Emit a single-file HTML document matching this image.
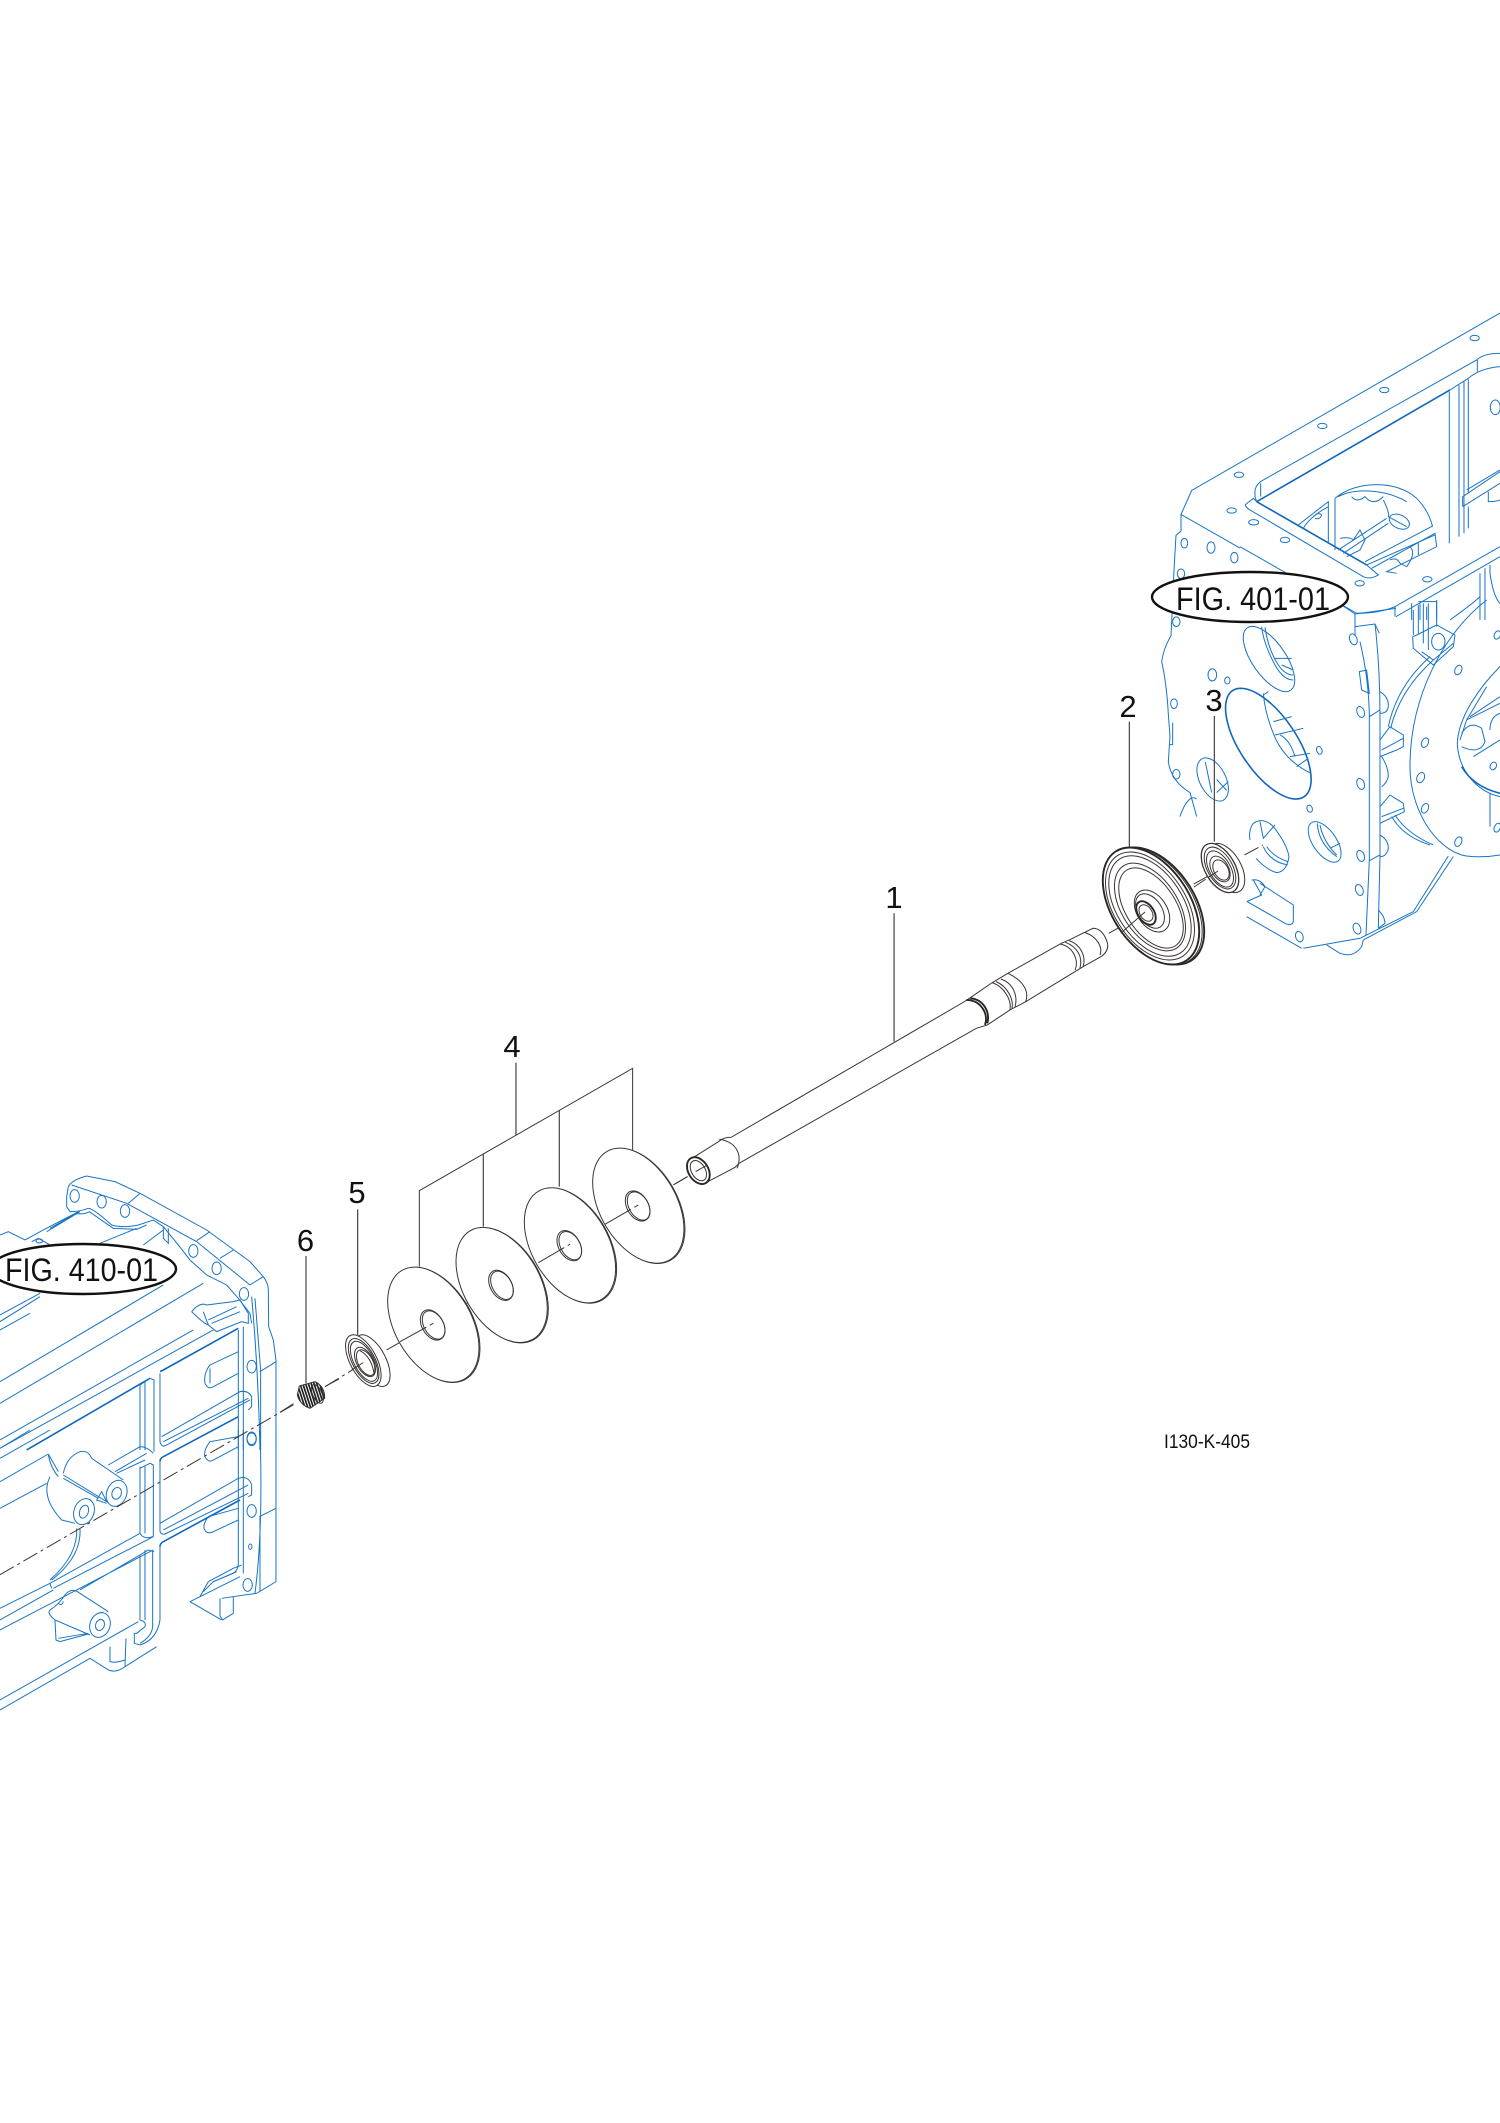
<!DOCTYPE html>
<html><head><meta charset="utf-8"><style>
html,body{margin:0;padding:0;background:#fff}
svg{display:block}
.b *{fill:none;stroke:#1874c6;stroke-width:1;vector-effect:non-scaling-stroke}
.b .t{stroke-width:1.6;stroke:#0f66bd}
.k *{fill:none;stroke:#3a3533;stroke-width:1;vector-effect:non-scaling-stroke}
.k .w{fill:#fff}
.k .t{stroke-width:1.9;stroke:#2a2624}
.k .l{stroke:#444;stroke-width:1.2}
.k .d{stroke-dasharray:16 4 3 4}
text{font-family:"Liberation Sans",sans-serif;fill:#111}
</style></head><body>
<svg width="1500" height="2123" viewBox="0 0 1500 2123" xmlns="http://www.w3.org/2000/svg">
<defs><pattern id="h" width="8" height="8" patternUnits="userSpaceOnUse" patternTransform="rotate(-18)"><rect width="8" height="8" fill="#fff"/><rect width="5" height="8" fill="#1c1c1c"/></pattern></defs>
<rect width="1500" height="2123" fill="#fff"/>

<!-- right housing: left part -->
<g class="b" transform="translate(1100,300) scale(.3333,.4359)">
<path d="M1200 30L275 437L243 492L420 569"/>
<ellipse cx="417" cy="401" rx="14" ry="6"/><ellipse cx="395" cy="483" rx="14" ry="6"/>
<path d="M243 492V530L228 540L222 620L215 740L213 770Q190 800 185 830Q200 880 205 950L210 1000L205 1060Q215 1105 270 1130L290 1185"/>
<path d="M240 1185C255 1150 275 1135 290 1145M218 970V1020H208"/>
<ellipse cx="253" cy="558" rx="10" ry="11"/><ellipse cx="333" cy="568" rx="12" ry="13"/><ellipse cx="403" cy="591" rx="11" ry="12"/><ellipse cx="243" cy="628" rx="11" ry="11"/><ellipse cx="229" cy="738" rx="11" ry="11"/><ellipse cx="222" cy="926" rx="10" ry="11"/><ellipse cx="382" cy="873" rx="8" ry="8"/><ellipse cx="337" cy="860" rx="13" ry="14"/><ellipse cx="229" cy="1088" rx="11" ry="11"/>
<ellipse cx="338" cy="1100" rx="58" ry="36" transform="rotate(48 338 1100)"/>
<path d="M316 1060L335 1130M350 1100L380 1125M350 1130L385 1105"/>
</g>

<!-- right housing: top -->
<g class="b" transform="translate(1240,320) scale(.3333)">
<path d="M45 510Q50 490 70 480L710 120Q730 100 780 100M45 510V530L50 545M62 490V530"/>
<path class="t" d="M50 545L630 210"/>
<path d="M630 210L685 175Q720 145 780 140M15 555L40 535L50 545M15 555Q20 565 30 570L370 770Q390 780 415 765L380 735"/>
<path class="t" d="M50 545L380 735"/>
<path d="M380 735L585 645"/>
<path d="M628 215V670M657 195V650M672 185V640M685 178V520M685 560V625M712 120V155"/>
<path d="M0 680L350 880Q420 880 465 860L780 680M465 860V890M468 890L780 710"/>
<path d="M175 615L265 545V670M190 625Q210 590 265 560M285 535V690"/>
<path d="M285 535C350 480 470 480 530 535C555 560 570 590 578 620M295 530C340 505 430 505 500 545"/>
<path d="M335 530Q350 550 375 530Q400 560 430 530M430 540Q450 580 445 590L500 620"/>
<ellipse cx="478" cy="605" rx="32" ry="20" transform="rotate(25 478 605)"/>
<path d="M295 690L440 595M310 700L445 610M300 655Q330 650 340 660L360 630L375 660L360 690L320 710M375 725L578 618M395 745L585 640L590 680L440 755L470 760M450 720Q470 710 480 730L500 740Q530 700 510 680M535 670V705M220 590Q235 575 245 585Q240 600 225 595"/>
<path d="M668 530L780 455M668 560L780 490M668 530V560M680 510L780 450M745 515V545Q770 545 780 540"/>
<ellipse cx="766" cy="262" rx="15" ry="22"/>
<path d="M720 760V900M735 745V900M750 735V760Q760 830 780 850M720 830Q700 850 630 900"/>
<path d="M515 850V900M535 845Q560 845 590 845V900M540 850V900M560 860V900"/>
<ellipse cx="704" cy="54" rx="14" ry="8"/><ellipse cx="433" cy="210" rx="14" ry="8"/><ellipse cx="247" cy="318" rx="14" ry="8"/><ellipse cx="41" cy="607" rx="15" ry="8"/><ellipse cx="135" cy="660" rx="14" ry="8"/><ellipse cx="359" cy="790" rx="14" ry="8"/><ellipse cx="562" cy="778" rx="14" ry="8"/>
</g>

<!-- right housing: lower -->
<g class="b" transform="translate(1240,600) scale(.3333)">
<ellipse cx="87" cy="177" rx="114" ry="50" transform="rotate(55 87 177)"/>
<path d="M65 80Q70 130 105 195Q130 240 160 240M75 82Q85 150 115 195Q135 225 160 225M105 175L155 175M125 195L160 210"/>
<ellipse class="t" cx="85" cy="431" rx="192" ry="85" transform="rotate(56 85 431)"/>
<path d="M70 280Q75 340 100 400Q130 480 213 520M100 365L155 350M105 405L190 385M150 470L210 460M170 500L205 475M70 285L85 275M120 405Q150 420 165 470"/>
<ellipse cx="238" cy="451" rx="8" ry="12" transform="rotate(-20 238 451)"/><ellipse cx="209" cy="626" rx="8" ry="11" transform="rotate(-20 209 626)"/>
<ellipse cx="254" cy="726" rx="70" ry="35" transform="rotate(55 254 726)"/>
<path d="M232 670Q235 730 290 770M240 675Q250 725 290 765M270 745L300 730"/>
<path d="M30 720Q25 690 40 670Q70 650 100 680Q140 730 147 770Q140 815 110 818Q80 810 48 775M60 665L70 715L105 675M70 740Q90 785 143 795M80 740Q100 770 143 785"/>
<ellipse cx="340" cy="118" rx="11" ry="17" transform="rotate(-20 340 118)"/><ellipse cx="362" cy="336" rx="11" ry="17" transform="rotate(-20 362 336)"/><ellipse cx="362" cy="552" rx="11" ry="17" transform="rotate(-20 362 552)"/><ellipse cx="362" cy="768" rx="11" ry="17" transform="rotate(-20 362 768)"/><ellipse cx="358" cy="870" rx="11" ry="17" transform="rotate(-20 358 870)"/><ellipse cx="351" cy="986" rx="11" ry="17" transform="rotate(-20 351 986)"/><ellipse cx="178" cy="1010" rx="11" ry="16" transform="rotate(-20 178 1010)"/>
<path d="M305 15L345 42M345 42L468 25M345 42V108M345 80L405 72L418 100"/>
<path d="M360 125Q385 230 388 340V780L378 1005M405 72Q420 200 420 350V770L415 985M388 350L420 330M388 782L420 765M358 215L380 210L388 280L365 270Z"/>
<path d="M420 275Q445 290 445 315Q445 340 420 340M425 470Q445 500 445 530Q440 550 425 560M420 705Q445 720 445 745Q440 770 420 770M415 930Q435 950 435 970L415 985"/>
<path d="M420 420L450 380L490 405V440L470 450L420 470M425 450L490 415M420 620L450 585L490 610L493 635L420 670M425 650L490 625"/>
<path d="M445 380Q470 260 570 170M452 385Q480 270 580 180M455 650Q490 710 570 735M465 645Q500 700 580 735"/>
<path d="M520 30V105M535 15V100M550 10V130M565 10V150M590 0V80M518 110L530 105L590 75L645 105L640 140L580 195L520 145ZM545 155L580 180L640 130"/>
<ellipse cx="595" cy="125" rx="20" ry="25"/>
<path d="M740 0C610 100 510 290 510 500C510 640 600 770 700 770Q740 772 780 765"/>
<path d="M780 200C720 260 655 350 652 430C655 510 710 575 780 590"/>
<path class="t" d="M665 500Q700 560 780 580"/>
<path d="M660 420L680 360L780 310M665 400Q690 360 725 385L735 425Q720 465 665 440M700 470L780 420M690 350L780 290M680 360L740 260M780 340Q750 350 750 390M750 580V680"/>
<g><ellipse cx="555" cy="428" rx="10" ry="15" transform="rotate(25 555 428)"/><ellipse cx="542" cy="533" rx="11" ry="16" transform="rotate(25 542 533)"/><ellipse cx="555" cy="625" rx="10" ry="15" transform="rotate(25 555 625)"/><ellipse cx="655" cy="725" rx="10" ry="15" transform="rotate(25 655 725)"/><ellipse cx="655" cy="210" rx="10" ry="15" transform="rotate(25 655 210)"/><ellipse cx="772" cy="105" rx="9" ry="13" transform="rotate(25 772 105)"/><ellipse cx="760" cy="498" rx="9" ry="12" transform="rotate(25 760 498)"/><ellipse cx="772" cy="683" rx="9" ry="14" transform="rotate(25 772 683)"/></g>
<path d="M640 770L530 935L370 1020L365 1040Q340 1075 300 1060L260 1035M625 768L520 935L360 1015L190 1045M20 950L185 1045"/>
<path d="M20 905L65 885L40 840M60 850L160 915V965Q155 980 135 970L22 905M35 840Q60 835 75 860L60 885"/>
</g>

<!-- left housing top -->
<g class="b" transform="translate(0,1170) scale(.3333)">
<path d="M205 50Q215 30 260 18L345 35L420 70L620 180L750 275L790 320Q805 340 805 360L806 470L820 510L828 570V840"/>
<path d="M205 50L200 80V110L210 125Q240 125 265 115Q280 115 335 165Q370 175 415 165Q430 160 460 150L490 170L535 225L570 270L620 315L680 345L715 385L750 430L755 460"/>
<path d="M225 130Q250 135 268 125L340 175L410 178L440 165M215 45L380 100L590 215L750 345M385 100L420 70M590 212L630 185M660 265L700 240M750 345L790 320"/>
<path d="M755 380Q775 600 780 840M765 385L782 600V840M780 605L828 575"/>
<path d="M490 170V205L505 220V175"/>
<ellipse cx="224" cy="78" rx="14" ry="19"/><ellipse cx="305" cy="95" rx="14" ry="19"/><ellipse cx="375" cy="123" rx="14" ry="19"/><ellipse cx="580" cy="243" rx="14" ry="19"/><ellipse cx="650" cy="295" rx="14" ry="19"/><ellipse cx="732" cy="372" rx="14" ry="19"/><ellipse cx="755" cy="590" rx="14" ry="19"/><ellipse cx="755" cy="808" rx="14" ry="19"/>
<path d="M0 195L25 185L75 210L130 180L235 125M140 185L240 125M150 175L220 135M95 215L115 205L150 225M300 220L410 175M430 225L490 180"/>
<ellipse cx="118" cy="213" rx="10" ry="6"/>
<path d="M0 435L120 370M0 455L120 380M0 480L90 430M0 635L490 345M0 700L610 340M0 810L580 480M0 835L640 480"/>
<path class="t" d="M80 840L450 625M480 605L490 600L715 475"/>
<path d="M575 425Q600 395 620 405L700 395L720 390L745 430V460L725 455L650 485L625 465Q610 460 575 425M610 425L625 465M625 450L710 410M635 460L720 425"/>
<path d="M480 610V815Q485 835 500 825L750 690M490 815L745 685M715 545L630 585Q610 610 615 640Q625 660 640 650L715 610M630 595V640M485 800L720 665Q745 660 755 680V710L745 720"/>
<path d="M420 640V840M435 635V840M450 625L462 630V840M420 645L450 625M715 480V840M730 470V840"/>
</g>

<!-- left housing bottom -->
<g class="b" transform="translate(0,1430) scale(.3333)">
<path d="M0 55L90 0M0 85L150 0M0 155L145 72M0 235L140 160M145 72L175 125M145 72Q150 110 175 140M150 140Q120 200 185 270L225 280"/>
<path d="M190 130Q200 80 240 65Q265 60 275 85L370 150M190 135L320 215L305 185L290 210L320 220M190 145L295 205"/>
<path d="M325 105L420 50Q440 50 460 70M345 125L440 70M350 130L435 90"/>
<path d="M420 0V50M435 0V50M462 0V65M420 110V310Q430 330 460 320V105L450 100L420 115M435 110V310"/>
<path class="t" d="M480 95Q480 85 490 80L715 -40M480 350Q480 340 490 335L720 210"/>
<path d="M480 95V300Q480 315 495 312L745 190M480 280L715 145Q745 135 755 165V195L745 200M490 300L745 165M480 350V570"/>
<path d="M715 20L630 35Q610 60 615 80Q625 100 640 90L715 50M715 235L625 260Q610 280 612 295Q620 315 640 305L715 270"/>
<path d="M715 0V400Q715 420 700 430L640 455M730 0V430M765 490Q790 300 780 0M778 260L828 235M780 260V485M828 0V455L770 490L665 505"/>
<ellipse cx="755" cy="25" rx="14" ry="19"/><ellipse cx="755" cy="243" rx="14" ry="19"/><ellipse cx="751" cy="350" rx="5" ry="8"/><ellipse cx="743" cy="465" rx="14" ry="19"/>
<path d="M570 515L720 440M600 500L625 455L700 415L725 405M610 485L640 455L710 425M570 515L665 570M660 505V558L668 570L700 550V500"/>
<path d="M420 375V570Q440 575 435 590L410 610H403V640L420 645Q470 630 480 570M435 360V570M458 365V590Q455 620 420 640M445 360L462 365M420 375L445 360"/>
<path d="M150 460L420 310M160 475L460 320M0 535L150 460M0 600L460 360M0 570L160 480M240 480L420 375M150 460L155 475"/>
<path d="M150 540Q175 525 195 495Q215 470 240 490L325 545M150 540Q140 550 165 570L270 615M165 570L168 630L180 635L265 612M175 520Q185 530 190 515M175 625L265 610"/>
<path d="M0 810L415 575M0 840L270 685L325 720Q350 730 375 710L470 650M330 650V695Q345 700 375 690M378 625L375 710"/>
<path d="M240 295Q245 380 155 450M230 295Q235 375 150 450"/>
<ellipse cx="252" cy="245" rx="30" ry="40" transform="rotate(20 252 245)"/><ellipse cx="252" cy="245" rx="13" ry="20" transform="rotate(20 252 245)"/>
<ellipse cx="350" cy="190" rx="30" ry="40" transform="rotate(20 350 190)"/><ellipse cx="350" cy="190" rx="14" ry="18" transform="rotate(20 350 190)"/>
<ellipse cx="300" cy="585" rx="30" ry="38" transform="rotate(20 300 585)"/><ellipse cx="300" cy="585" rx="13" ry="17" transform="rotate(20 300 585)"/>
</g>

<!-- label ellipses -->
<ellipse cx="1250" cy="597" rx="98" ry="25" fill="#fff" stroke="#111" stroke-width="2.4"/>
<ellipse cx="83" cy="1269" rx="93" ry="25" fill="#fff" stroke="#111" stroke-width="2.4"/>
<text x="1176" y="610" font-size="32" textLength="154" lengthAdjust="spacingAndGlyphs">FIG. 401-01</text>
<text x="5" y="1281" font-size="32" textLength="153" lengthAdjust="spacingAndGlyphs">FIG. 410-01</text>

<!-- axis through left housing -->
<g class="k" transform="translate(0,1160) scale(.3333,.3654)">
<path class="d" d="M0 1135L880 670M975 620L1020 598"/>
</g>

<!-- washers and small parts -->
<g class="k" transform="translate(280,1040) scale(.3333)">
<path d="M418 680V452L1058 85V330"/>
<path class="l" d="M708 68V285M610 342V560M838 212V440M233 508V885M78 648V1030"/>
<path class="d" d="M0 1117L50 1085M135 1040L225 985M320 930L460 850M560 790L655 737M775 668L870 613M975 553L1075 495M1180 435L1230 405"/>
<ellipse cx="463" cy="855" rx="188" ry="115" transform="rotate(60 463 855)"/><ellipse class="w" cx="460" cy="854" rx="188" ry="115" transform="rotate(60 460 854)"/><ellipse cx="458" cy="855" rx="49" ry="32" transform="rotate(60 458 855)"/><ellipse cx="461" cy="855" rx="46" ry="29" transform="rotate(60 461 855)"/>
<g transform="translate(205,-119)"><ellipse cx="463" cy="855" rx="188" ry="115" transform="rotate(60 463 855)"/><ellipse class="w" cx="460" cy="854" rx="188" ry="115" transform="rotate(60 460 854)"/><ellipse cx="458" cy="855" rx="49" ry="32" transform="rotate(60 458 855)"/><ellipse cx="461" cy="855" rx="46" ry="29" transform="rotate(60 461 855)"/></g>
<g transform="translate(410,-238)"><ellipse cx="463" cy="855" rx="188" ry="115" transform="rotate(60 463 855)"/><ellipse class="w" cx="460" cy="854" rx="188" ry="115" transform="rotate(60 460 854)"/><ellipse cx="458" cy="855" rx="49" ry="32" transform="rotate(60 458 855)"/><ellipse cx="461" cy="855" rx="46" ry="29" transform="rotate(60 461 855)"/></g>
<g transform="translate(615,-357)"><ellipse cx="463" cy="855" rx="188" ry="115" transform="rotate(60 463 855)"/><ellipse class="w" cx="460" cy="854" rx="188" ry="115" transform="rotate(60 460 854)"/><ellipse cx="458" cy="855" rx="49" ry="32" transform="rotate(60 458 855)"/><ellipse cx="461" cy="855" rx="46" ry="29" transform="rotate(60 461 855)"/></g>
<path d="M360 905L460 850M775 668L870 613M975 553L1075 495" stroke-dasharray="30 4"/>
<!-- bearing 5 -->
<ellipse class="w" cx="277" cy="962" rx="85" ry="40" transform="rotate(62 277 962)"/>
<ellipse class="w" cx="250" cy="962" rx="85" ry="40" transform="rotate(62 250 962)"/>
<ellipse cx="251" cy="963" rx="74" ry="34" transform="rotate(62 251 963)"/>
<ellipse cx="252" cy="964" rx="66" ry="30" transform="rotate(62 252 964)"/>
<ellipse cx="255" cy="966" rx="48" ry="25" transform="rotate(62 255 966)"/>
<ellipse cx="257" cy="968" rx="42" ry="22" transform="rotate(62 257 968)"/>
<path d="M240 932Q275 950 283 1005"/>
<path d="M215 990L250 968" stroke-dasharray="14 3"/>
<!-- roller 6 -->
<path style="fill:url(#h)" d="M58 1038L105 1025Q135 1040 134 1075L90 1105Q60 1095 52 1065Z"/>
<ellipse cx="112" cy="1062" rx="14" ry="30" transform="rotate(-25 112 1062)"/>
</g>

<!-- shaft -->
<g class="k" transform="translate(660,680) scale(.3954,.3333)">
<path class="l" d="M592 700V1085M1187 125V505M1402 108V485"/>
<path class="w" d="M85 1432L148 1385Q160 1372 180 1372L770 965L795 945L840 908L880 880L1015 790L1035 780L1095 745Q1120 745 1132 790Q1135 815 1115 830L1070 860L925 965L885 990L828 1035L800 1045L200 1450L190 1462L110 1512Z"/>
<path d="M150 1378C190 1385 210 1420 195 1465M840 908C870 920 890 960 885 990M850 905C880 920 895 960 890 985M862 897C895 910 905 950 898 980M880 880C915 900 935 930 925 965M1075 758C1105 770 1120 800 1113 825"/>
<path class="t" d="M775 960C810 960 832 1000 822 1035M785 955C818 958 835 995 828 1030"/>
<path d="M1012 792C1045 800 1060 840 1050 870M1025 787C1055 800 1070 830 1062 865M1035 782C1065 795 1078 830 1070 860"/>
<ellipse class="w t" cx="97" cy="1472" rx="26" ry="42" transform="rotate(-22 97 1472)"/>
<ellipse cx="97" cy="1472" rx="18" ry="32" transform="rotate(-22 97 1472)"/>
<path class="d" d="M38 1512L70 1490M90 1475L120 1455"/>
<path class="d" d="M1135 760L1225 700M1350 612L1415 570M1478 525L1525 495"/>
</g>

<!-- gear 2 and bearing 3 -->
<g class="k">
<ellipse class="w t" cx="1156" cy="906" rx="65" ry="39" transform="rotate(57 1156 906)"/>
<ellipse cx="1154" cy="906" rx="65" ry="39" transform="rotate(57 1154 906)"/>
<ellipse class="w t" cx="1151" cy="906" rx="65" ry="39" transform="rotate(57 1151 906)"/>
<ellipse cx="1150" cy="906" rx="60" ry="36" transform="rotate(57 1150 906)"/>
<ellipse cx="1150" cy="906" rx="56" ry="33" transform="rotate(57 1150 906)"/>
<ellipse cx="1150" cy="907" rx="49" ry="28" transform="rotate(57 1150 907)"/>
<ellipse cx="1151" cy="908" rx="45" ry="25" transform="rotate(57 1151 908)"/>
<ellipse cx="1152" cy="911" rx="23" ry="15" transform="rotate(57 1152 911)"/>
<ellipse cx="1150" cy="911" rx="19" ry="12" transform="rotate(57 1150 911)"/>
<ellipse class="t" cx="1146" cy="913" rx="13" ry="8" transform="rotate(57 1146 913)"/>
<ellipse cx="1146" cy="913" rx="9" ry="6" transform="rotate(57 1146 913)"/>
<path d="M1121 933L1145 912"/>
<ellipse class="w" cx="1226" cy="868" rx="27" ry="15" transform="rotate(60 1226 868)"/>
<ellipse class="w" cx="1220" cy="868" rx="27" ry="15" transform="rotate(60 1220 868)" style="stroke-width:1.3"/>
<ellipse cx="1220" cy="868" rx="23" ry="12.5" transform="rotate(60 1220 868)"/>
<ellipse cx="1220" cy="869" rx="20" ry="10.5" transform="rotate(60 1220 869)"/>
<ellipse cx="1220" cy="869" rx="14" ry="8.5" transform="rotate(60 1220 869)"/>
<ellipse cx="1221" cy="870" rx="11" ry="7" transform="rotate(60 1221 870)"/>
<path d="M1194 887L1218 871" stroke-dasharray="14 3"/>
</g>

<!-- numbers -->
<g font-size="31" text-anchor="middle">
<text x="894" y="908">1</text>
<text x="1128" y="717">2</text>
<text x="1214" y="711">3</text>
<text x="512" y="1057">4</text>
<text x="357" y="1203">5</text>
<text x="305.5" y="1251">6</text>
</g>
<text x="1164" y="1448" font-size="19" textLength="86" lengthAdjust="spacingAndGlyphs">I130-K-405</text>
</svg>
</body></html>
